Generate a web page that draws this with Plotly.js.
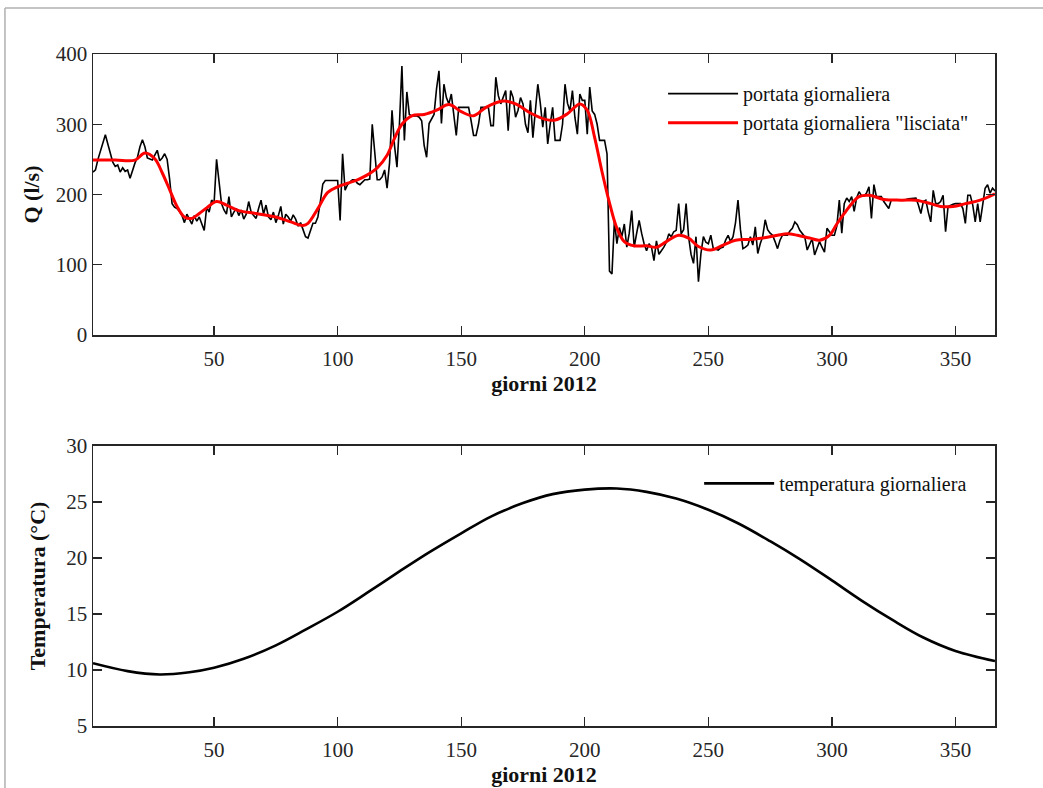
<!DOCTYPE html>
<html>
<head>
<meta charset="utf-8">
<script src="https://cdn.plot.ly/plotly-3.0.1.min.js"></script>
<style>html,body{margin:0;padding:0;background:#fff;}#chart{width:1043px;height:788px;}</style>
</head>
<body>
<div id="chart"></div>
<script>
// Daily flow (l/s), days 1..366 of 2012
const portataGiornaliera = [
  232, 235, 250, 262, 275, 285, 272, 260, 246, 240,
  242, 232, 238, 233, 235, 223, 236, 245, 253, 268,
  278, 268, 252, 250, 249, 256, 263, 248, 252, 258,
  250, 222, 187, 182, 180, 176, 170, 160, 172, 165,
  158, 170, 162, 168, 158, 149, 182, 175, 192, 188,
  250, 215, 187, 178, 172, 197, 168, 175, 180, 170,
  178, 165, 172, 190, 175, 170, 166, 180, 192, 172,
  185, 168, 164, 175, 160, 170, 183, 158, 172, 168,
  162, 171, 165, 155, 160, 150, 140, 138, 150, 159,
  159, 168, 190, 215, 220, 220, 220, 220, 220, 220,
  163, 258, 206, 214, 218, 221, 221, 216, 214, 218,
  221, 221, 222, 300, 260, 221, 221, 225, 235, 209,
  245, 320, 270, 239, 300, 383, 277, 346, 314, 312,
  312, 312, 310, 305, 270, 253, 301, 308, 314, 350,
  376, 301, 357, 338, 329, 343, 315, 284, 324, 324,
  324, 324, 324, 305, 284, 284, 300, 324, 324, 324,
  324, 298, 298, 367, 341, 329, 338, 348, 291, 348,
  338, 310, 320, 338, 329, 300, 288, 334, 281, 320,
  357, 330, 296, 324, 272, 300, 324, 277, 277, 277,
  300, 357, 330, 319, 348, 310, 286, 343, 334, 334,
  286, 353, 319, 314, 300, 277, 277, 277, 258, 91,
  87, 163, 130, 153, 140, 158, 125, 145, 177, 125,
  145, 163, 145, 130, 120, 130, 125, 106, 134, 115,
  120, 125, 132, 144, 140, 147, 149, 187, 144, 150,
  187, 140, 115, 102, 140, 76, 116, 140, 132, 130,
  142, 123, 122, 121, 124, 125, 135, 142, 133, 140,
  160, 192, 150, 123, 125, 128, 140, 128, 154, 116,
  130, 140, 164, 150, 145, 142, 133, 123, 135, 142,
  142, 142, 148, 152, 161, 157, 149, 145, 140, 121,
  130, 137, 114, 125, 133, 125, 118, 152, 147, 142,
  142, 155, 192, 145, 187, 195, 190, 197, 176, 195,
  204, 198, 198, 202, 211, 166, 214, 197, 197, 197,
  190, 185, 180, 192, 192, 192, 192, 192, 192, 193,
  194, 194, 195, 195, 185, 173, 190, 192, 175, 161,
  206, 187, 187, 190, 199, 147, 183, 185, 186, 187,
  187, 187, 180, 159, 199, 199, 185, 161, 187, 161,
  185, 209, 214, 202, 209, 205
];
const giorni = portataGiornaliera.map((v, i) => i + 1);

// Smoothed flow ("lisciata"), read at selected days
const giorniLisciata = [1, 10, 18, 22, 26, 29, 32, 35, 38, 41, 44, 47, 51, 55, 60, 67, 75, 81, 86, 88,
  92, 96, 100, 104, 108, 112, 116, 120, 123, 126, 130, 135, 140, 145, 150, 155, 160, 167, 172, 178,
  184, 188, 193, 198, 201, 204, 207, 210, 213, 216, 220, 225, 229, 233, 238, 242, 246, 251, 256, 261,
  267, 272, 278, 282, 286, 291, 295, 299, 302, 305, 308, 311, 315, 321, 328, 334, 340, 344, 349, 354, 360, 366];
const portataLisciata = [249, 249, 249, 259, 251, 231, 207, 183, 168, 166, 173, 181, 190, 185, 177, 173, 168, 161, 156, 159,
  180, 203, 211, 216, 221, 228, 238, 256, 280, 300, 312, 314, 320, 328, 318, 312, 324, 333, 329, 316,
  307, 306, 315, 329, 320, 281, 232, 188, 152, 133, 127, 127, 125, 133, 142, 138, 126, 121, 128, 135,
  136, 138, 142, 144, 142, 138, 135, 142, 158, 173, 187, 197, 199, 193, 192, 192, 187, 183, 183, 187, 192, 201];

// Daily temperature (°C), read at selected days
const giorniTemp = [1, 15, 28, 40, 50, 62, 75, 87, 100, 112, 125, 137, 150, 162, 175, 187, 200, 213, 225, 237,
  250, 262, 275, 287, 300, 312, 325, 337, 350, 366];
const temperatura = [10.6, 9.9, 9.6, 9.8, 10.2, 11.0, 12.2, 13.6, 15.2, 16.9, 18.8, 20.5, 22.2, 23.7, 24.9, 25.7, 26.1, 26.2, 25.9, 25.3,
  24.3, 23.1, 21.5, 19.9, 18.0, 16.2, 14.4, 12.9, 11.7, 10.8];

const xTicks = [50, 100, 150, 200, 250, 300, 350];
const yTicksQ = [0, 100, 200, 300, 400];
const yTicksT = [5, 10, 15, 20, 25, 30];

const serif = 'Liberation Serif, Times New Roman, serif';
const axisCol = '#262626';

const traces = [
  {x: giorni, y: portataGiornaliera, type: 'scatter', mode: 'lines', name: 'portata giornaliera',
   line: {color: '#000000', width: 1.6}, xaxis: 'x', yaxis: 'y', legend: 'legend'},
  {x: giorniLisciata, y: portataLisciata, type: 'scatter', mode: 'lines', name: 'portata giornaliera "lisciata"',
   line: {color: '#ff0000', width: 3, shape: 'spline', smoothing: 1}, xaxis: 'x', yaxis: 'y', legend: 'legend'},
  {x: giorniTemp, y: temperatura, type: 'scatter', mode: 'lines', name: 'temperatura giornaliera',
   line: {color: '#000000', width: 2.6, shape: 'spline', smoothing: 1}, xaxis: 'x2', yaxis: 'y2', legend: 'legend2'}
];

function xAxis(anchor) {
  return {
    domain: [0, 1], anchor: anchor, range: [1, 366], tickvals: xTicks, ticks: 'inside', ticklen: 9, tickwidth: 1.2,
    tickcolor: axisCol, showline: true, linecolor: axisCol, linewidth: 1.5, mirror: 'ticks', showgrid: false, zeroline: false,
    tickfont: {family: serif, size: 21, color: axisCol}, ticklabelstandoff: 4,
    title: {text: '<b>giorni 2012</b>', font: {family: serif, size: 22, color: '#111'}, standoff: 6}
  };
}
function yAxis(anchor, domain, range, tickvals, title, standoff) {
  return {
    domain: domain, anchor: anchor, range: range, tickvals: tickvals, ticks: 'inside', ticklen: 9, tickwidth: 1.2,
    tickcolor: axisCol, showline: true, linecolor: axisCol, linewidth: 1.5, mirror: 'ticks', showgrid: false, zeroline: false,
    tickfont: {family: serif, size: 21, color: axisCol},
    title: {text: '<b>' + title + '</b>', font: {family: serif, size: 22, color: '#111'}, standoff: standoff}
  };
}

const layout = {
  width: 1043, height: 788,
  margin: {l: 93, r: 48, t: 54, b: 62},
  paper_bgcolor: '#ffffff', plot_bgcolor: '#ffffff',
  showlegend: true,
  xaxis: xAxis('y'),
  yaxis: yAxis('x', [0.5818, 1], [0, 400], yTicksQ, 'Q (l/s)', 10),
  xaxis2: xAxis('y2'),
  yaxis2: yAxis('x2', [0, 0.4167], [5, 30], yTicksT, 'Temperatura (°C)', 14),
  legend: {x: 0.632, y: 0.97, xanchor: 'left', yanchor: 'top', bgcolor: 'rgba(255,255,255,0)', borderwidth: 0,
    font: {family: serif, size: 20, color: '#111'}, itemwidth: 70, tracegroupgap: 0},
  legend2: {x: 0.672, y: 0.39, xanchor: 'left', yanchor: 'top', bgcolor: 'rgba(255,255,255,0)', borderwidth: 0,
    font: {family: serif, size: 20, color: '#111'}, itemwidth: 70},
  shapes: [
    {type: 'line', xref: 'paper', yref: 'paper', x0: -0.0976, x1: -0.0976, y0: -0.1, y1: 1.0685,
     line: {color: '#b0b0b0', width: 1.5}},
    {type: 'line', xref: 'paper', yref: 'paper', x0: -0.0976, x1: 1.06, y0: 1.0685, y1: 1.0685,
     line: {color: '#b0b0b0', width: 1.5}}
  ]
};

Plotly.newPlot('chart', traces, layout, {displayModeBar: false, staticPlot: true});
</script>
</body>
</html>
